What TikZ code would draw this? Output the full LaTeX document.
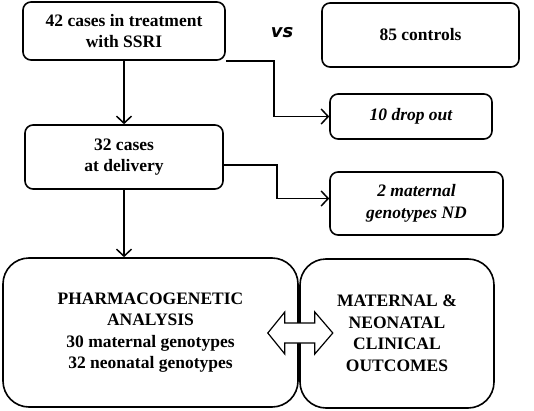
\documentclass[tikz,border=0pt]{standalone}
\usepackage{fontspec}
\setmainfont{Liberation Serif}
\newfontfamily\vsfont{DejaVu Sans}
\usetikzlibrary{shapes, arrows.meta, positioning}

\begin{document}
\begin{tikzpicture}[x=1pt, y=1pt,
        stage/.style={draw, line width=1.6pt, rounded corners=8pt, align=center,
            inner sep=0pt, font=\fontsize{17.5}{21.5}\selectfont\bfseries},
        note/.style={stage, font=\fontsize{17.5}{21.5}\selectfont\bfseries\itshape},
        outcome/.style={stage, rounded corners=26pt},
        flow/.style={line width=1.5pt, -{Straight Barb[length=7pt, width=15pt]}}
    ]
        \useasboundingbox (0,0) rectangle (534,410);

        % Study groups
        \node[stage, minimum width=202, minimum height=58] (cases) at (124,379)
            {42 cases in treatment\\with SSRI};
        \node[font=\vsfont\bfseries\itshape\fontsize{18}{20}\selectfont] (vs) at (282,377) {vs};
        \node[stage, minimum width=197, minimum height=64] (controls) at (420.5,375)
            {85 controls};

        % Follow-up
        \node[note, minimum width=162, minimum height=45] (dropout) at (411,293.5)
            {10 drop out};
        \node[stage, minimum width=198, minimum height=64] (delivery) at (124,253)
            {32 cases\\at delivery};
        \node[note, minimum width=173, minimum height=63] (missing) at (416.5,206.5)
            {2 maternal\\genotypes ND};

        % Analysis
        \node[outcome, minimum width=295, minimum height=149] (pharma) at (150.5,77.5)
            {PHARMACOGENETIC\\ANALYSIS\\30 maternal genotypes\\32 neonatal genotypes};
        \node[outcome, minimum width=194, minimum height=149] (clinical) at (397,76.5)
            {MATERNAL \&\\NEONATAL\\CLINICAL\\OUTCOMES};

        % Connectors
        \draw[flow] (cases.south) -- (delivery.north);
        \draw[flow] (cases.south east) -- ++(48,0) |- (dropout.west);
        \draw[flow] ([yshift=-8]delivery.east) -- ++(53,0) |- ([yshift=5]missing.west);
        \draw[flow] (delivery.south) -- (delivery.south |- pharma.north);

        % Double arrow
        \coordinate (link) at (pharma.east |- 0,77);
        \draw[line width=1.2pt, fill=white] ([xshift=1]link) ++(-32,0) -- ++(17,21) -- ++(0,-11)
            -- ++(30,0) -- ++(0,11) -- ++(18,-21) -- ++(-18,-21) -- ++(0,11)
            -- ++(-30,0) -- ++(0,-11) -- cycle;
    \end{tikzpicture}
\end{document}
